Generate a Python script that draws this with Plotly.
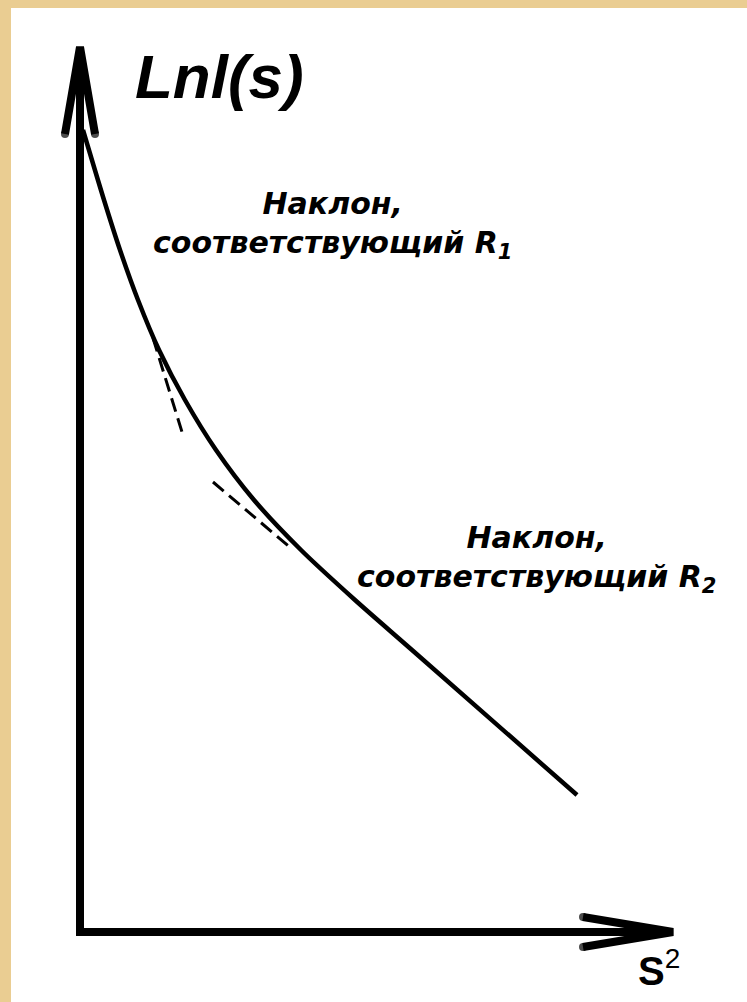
import plotly.graph_objects as go

# Canvas geometry (pixels) and data scale
W, H = 747, 1002
ORIGIN_PX = (80, 932)      # where the two axes meet
PX_PER_UNIT = 100.0

# ln I(s) versus s^2 : main curve
s2 = [0.03, 0.24, 0.40, 0.58, 0.79, 1.05, 1.36, 1.74, 2.21, 2.75, 3.32, 4.97]
ln_i = [8.02, 7.32, 6.82, 6.32, 5.82, 5.32, 4.82, 4.32, 3.82, 3.32, 2.82, 1.37]

# Tangent (slope) lines
tan1_s2 = [0.73, 1.02]
tan1_ln = [5.94, 5.00]
tan2_s2 = [1.33, 2.12]
tan2_ln = [4.50, 3.83]

# Axis extents (data units)
x_axis_end = 5.93
y_axis_end = 8.85
arrow_len = 0.87
arrow_half = 0.15

axis_label_y = "Lnl(s)"
axis_label_x = "<b>S</b><sup>2</sup>"
slope_label_1 = "Наклон,<br>соответствующий R<sub>1</sub>"
slope_label_2 = "Наклон,<br>соответствующий R<sub>2</sub>"

INK = "#000000"
PAPER = "#EACD92"


def px_x(p):
    return p / W


def px_y(p):
    return 1 - p / H


fig = go.Figure()

# Axes with arrowheads
fig.add_trace(go.Scatter(x=[0, 0], y=[-0.04, y_axis_end], mode="lines",
                         line=dict(color=INK, width=8), hoverinfo="skip"))
fig.add_trace(go.Scatter(x=[-0.04, x_axis_end], y=[0, 0], mode="lines",
                         line=dict(color=INK, width=8), hoverinfo="skip"))
fig.add_trace(go.Scatter(
    x=[-arrow_half, 0, arrow_half],
    y=[y_axis_end - arrow_len, y_axis_end, y_axis_end - arrow_len],
    mode="lines+markers", line=dict(color=INK, width=8),
    marker=dict(color=INK, size=[8, 0, 8], line=dict(width=0)), hoverinfo="skip"))
fig.add_trace(go.Scatter(
    x=[x_axis_end - arrow_len - 0.03, x_axis_end, x_axis_end - arrow_len - 0.03],
    y=[arrow_half, 0, -arrow_half],
    mode="lines+markers", line=dict(color=INK, width=8),
    marker=dict(color=INK, size=[8, 0, 8], line=dict(width=0)), hoverinfo="skip"))

# Curve
fig.add_trace(go.Scatter(x=s2, y=ln_i, mode="lines",
                         line=dict(color=INK, width=4.5, shape="spline", smoothing=0.8),
                         hoverinfo="skip"))

# Tangent lines
for tx, ty in ((tan1_s2, tan1_ln), (tan2_s2, tan2_ln)):
    fig.add_trace(go.Scatter(x=tx, y=ty, mode="lines",
                             line=dict(color=INK, width=3, dash="14px,7px"),
                             hoverinfo="skip"))

label_font = dict(family="DejaVu Sans", size=30, weight="bold", style="italic", color=INK)
annotations = [
    dict(text=axis_label_y, x=px_x(133), y=px_y(76), xanchor="left", yanchor="middle",
         font=dict(family="Liberation Sans", size=62, weight="bold", style="italic", color=INK)),
    dict(text=axis_label_x, x=px_x(636), y=px_y(968), xanchor="left", yanchor="middle",
         font=dict(family="Liberation Sans", size=40, color=INK)),
    dict(text=slope_label_1, x=px_x(332), y=px_y(225), xanchor="center", yanchor="middle",
         align="center", font=label_font),
    dict(text=slope_label_2, x=px_x(536), y=px_y(559), xanchor="center", yanchor="middle",
         align="center", font=label_font),
]
for a in annotations:
    a.update(xref="paper", yref="paper", showarrow=False)

fig.update_layout(
    width=W, height=H,
    margin=dict(l=0, r=0, t=0, b=0),
    paper_bgcolor=PAPER,
    plot_bgcolor="rgba(0,0,0,0)",
    showlegend=False,
    annotations=annotations,
    shapes=[dict(type="rect", xref="paper", yref="paper", layer="below",
                 x0=px_x(11), x1=1.0, y0=0.0, y1=px_y(8),
                 fillcolor="#FFFFFF", line=dict(width=0))],
    xaxis=dict(visible=False, fixedrange=True,
               range=[-ORIGIN_PX[0] / PX_PER_UNIT, (W - ORIGIN_PX[0]) / PX_PER_UNIT]),
    yaxis=dict(visible=False, fixedrange=True,
               range=[(ORIGIN_PX[1] - H) / PX_PER_UNIT, ORIGIN_PX[1] / PX_PER_UNIT]),
)

fig.write_html("out.html")
